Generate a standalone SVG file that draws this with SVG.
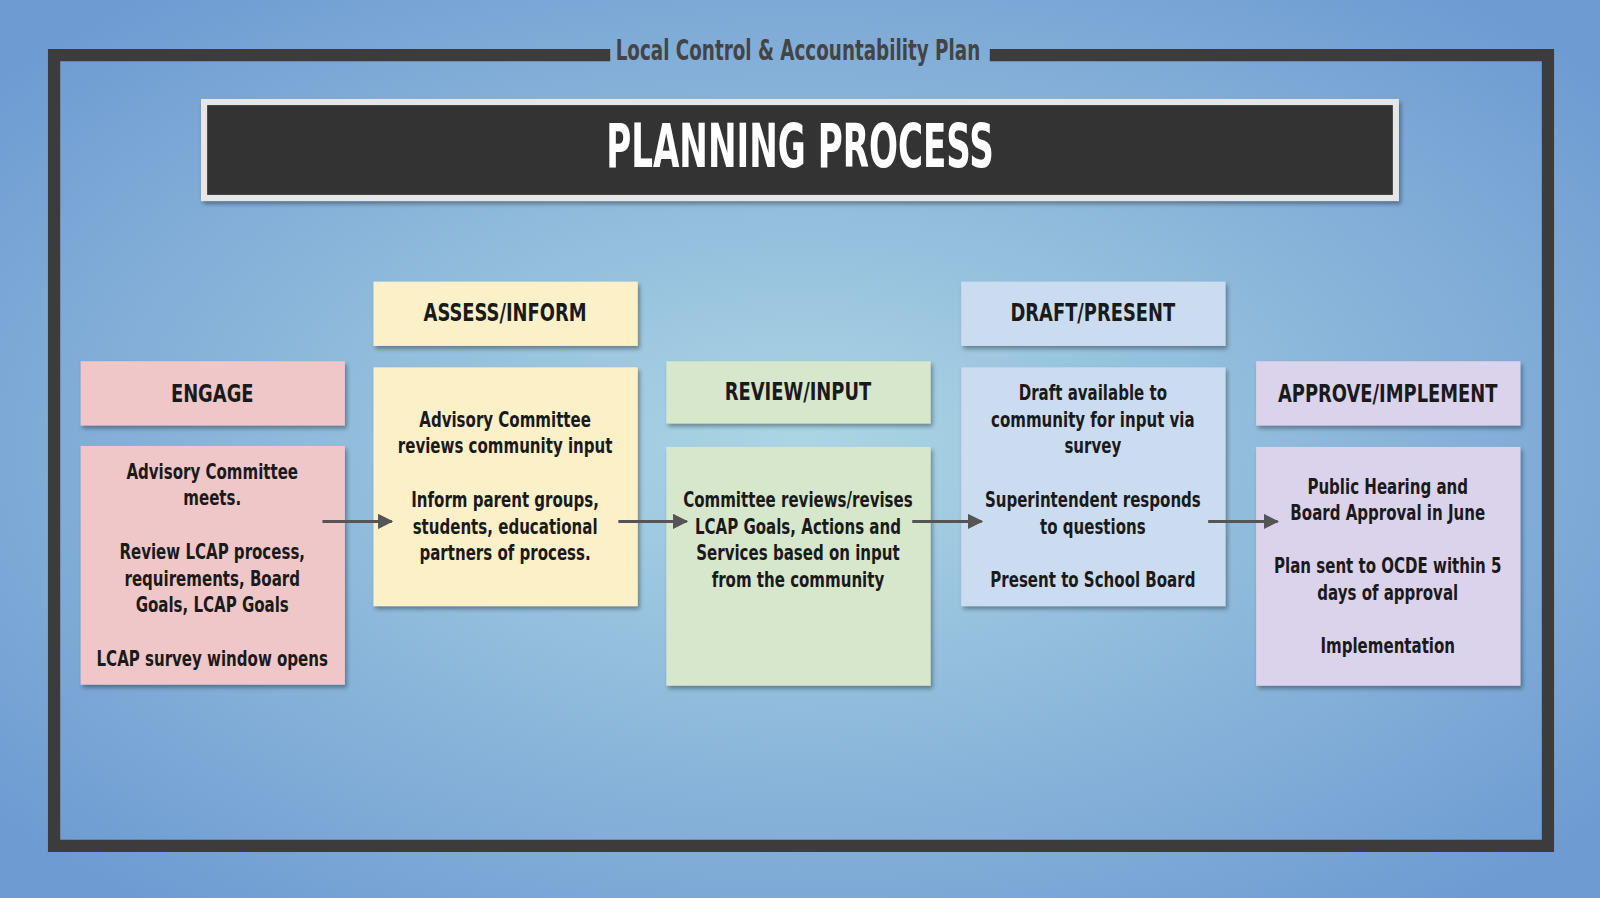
<svg xmlns="http://www.w3.org/2000/svg" width="1600" height="898" viewBox="0 0 1600 898">
<defs>
<radialGradient id="bg" cx="50%" cy="50%" r="65%">
<stop offset="0" stop-color="#acd6e4"/><stop offset="1" stop-color="#6e9bd2"/>
</radialGradient>
<filter id="sh" x="-10%" y="-10%" width="130%" height="130%"><feDropShadow dx="2" dy="3" stdDeviation="2" flood-opacity="0.35"/></filter>
<marker id="ah" viewBox="0 0 10 10" refX="9" refY="5" markerWidth="5" markerHeight="5" orient="auto"><path d="M0,0L10,5L0,10z" fill="#555"/></marker>
</defs>
<style>
text{font-family:"DejaVu Sans Condensed","Liberation Sans",sans-serif;text-anchor:middle;fill:#1a1a1a}
.h{font-size:25px;font-weight:bold}
.b{font-size:21px;font-weight:bold}
.box{filter:url(#sh)}
.c{stroke:#555;stroke-width:3;fill:none;marker-end:url(#ah)}
</style>
<rect width="1600" height="898" fill="url(#bg)"/>
<g transform="scale(1.0204)">
<g id="frame" fill="none" stroke="#3c3c3c" stroke-width="12">
<path d="M598,54H53V829H1517V54H970"/>
</g>
<g transform="translate(782,0) scale(0.74,1) translate(-782,0)">
<text x="782" y="59" style="font-size:27px;font-weight:bold;fill:#444">Local Control &amp; Accountability Plan</text>
</g>
<g id="banner">
<rect x="197" y="97" width="1174" height="100" fill="#e6e6e6" class="box"/>
<rect x="203" y="103" width="1162" height="88" fill="#333"/>
<g transform="translate(784,0) scale(0.62,1) translate(-784,0)">
<text x="784" y="164" style="font-size:60px;font-weight:bold;fill:#fff">PLANNING PROCESS</text>
</g>
</g>
<g id="engage">
<rect class="box" x="79" y="354" width="259" height="63" fill="#efc7c8"/>
<rect class="box" x="79" y="437" width="259" height="234" fill="#efc7c8"/>
<g transform="translate(208,0) scale(0.78,1) translate(-208,0)">
<text class="h" x="208" y="394">ENGAGE</text>
<text class="b" x="208" y="469">Advisory Committee</text><text class="b" x="208" y="495">meets.</text>
<text class="b" x="208" y="548">Review LCAP process,</text><text class="b" x="208" y="574">requirements, Board</text><text class="b" x="208" y="600">Goals, LCAP Goals</text>
<text class="b" x="208" y="653">LCAP survey window opens</text>
</g>
</g>
<g id="assess">
<rect class="box" x="366" y="276" width="259" height="63" fill="#fcf0c9"/>
<rect class="box" x="366" y="360" width="259" height="234" fill="#fcf0c9"/>
<g transform="translate(495,0) scale(0.78,1) translate(-495,0)">
<text class="h" x="495" y="315">ASSESS/INFORM</text>
<text class="b" x="495" y="418">Advisory Committee</text><text class="b" x="495" y="444">reviews community input</text>
<text class="b" x="495" y="497">Inform parent groups,</text><text class="b" x="495" y="523">students, educational</text><text class="b" x="495" y="549">partners of process.</text>
</g>
</g>
<g id="review">
<rect class="box" x="653" y="354" width="259" height="61" fill="#d7e7cc"/>
<rect class="box" x="653" y="438" width="259" height="234" fill="#d7e7cc"/>
<g transform="translate(782,0) scale(0.78,1) translate(-782,0)">
<text class="h" x="782" y="392">REVIEW/INPUT</text>
<text class="b" x="782" y="497">Committee reviews/revises</text><text class="b" x="782" y="523">LCAP Goals, Actions and</text><text class="b" x="782" y="549">Services based on input</text><text class="b" x="782" y="575">from the community</text>
</g>
</g>
<g id="draft">
<rect class="box" x="942" y="276" width="259" height="63" fill="#ccdcf0"/>
<rect class="box" x="942" y="360" width="259" height="234" fill="#ccdcf0"/>
<g transform="translate(1071,0) scale(0.78,1) translate(-1071,0)">
<text class="h" x="1071" y="315">DRAFT/PRESENT</text>
<text class="b" x="1071" y="392">Draft available to</text><text class="b" x="1071" y="418">community for input via</text><text class="b" x="1071" y="444">survey</text>
<text class="b" x="1071" y="497">Superintendent responds</text><text class="b" x="1071" y="523">to questions</text>
<text class="b" x="1071" y="575">Present to School Board</text>
</g>
</g>
<g id="approve">
<rect class="box" x="1231" y="354" width="259" height="63" fill="#dbd3eb"/>
<rect class="box" x="1231" y="438" width="259" height="234" fill="#dbd3eb"/>
<g transform="translate(1360,0) scale(0.78,1) translate(-1360,0)">
<text class="h" x="1360" y="394">APPROVE/IMPLEMENT</text>
<text class="b" x="1360" y="484">Public Hearing and</text><text class="b" x="1360" y="510">Board Approval in June</text>
<text class="b" x="1360" y="562">Plan sent to OCDE within 5</text><text class="b" x="1360" y="588">days of approval</text>
<text class="b" x="1360" y="640">Implementation</text>
</g>
</g>
<g id="connectors">
<line class="c" x1="316" y1="511" x2="384" y2="511"/>
<line class="c" x1="606" y1="511" x2="673" y2="511"/>
<line class="c" x1="894" y1="511" x2="962" y2="511"/>
<line class="c" x1="1184" y1="511" x2="1252" y2="511"/>
</g>
</g>
</svg>
